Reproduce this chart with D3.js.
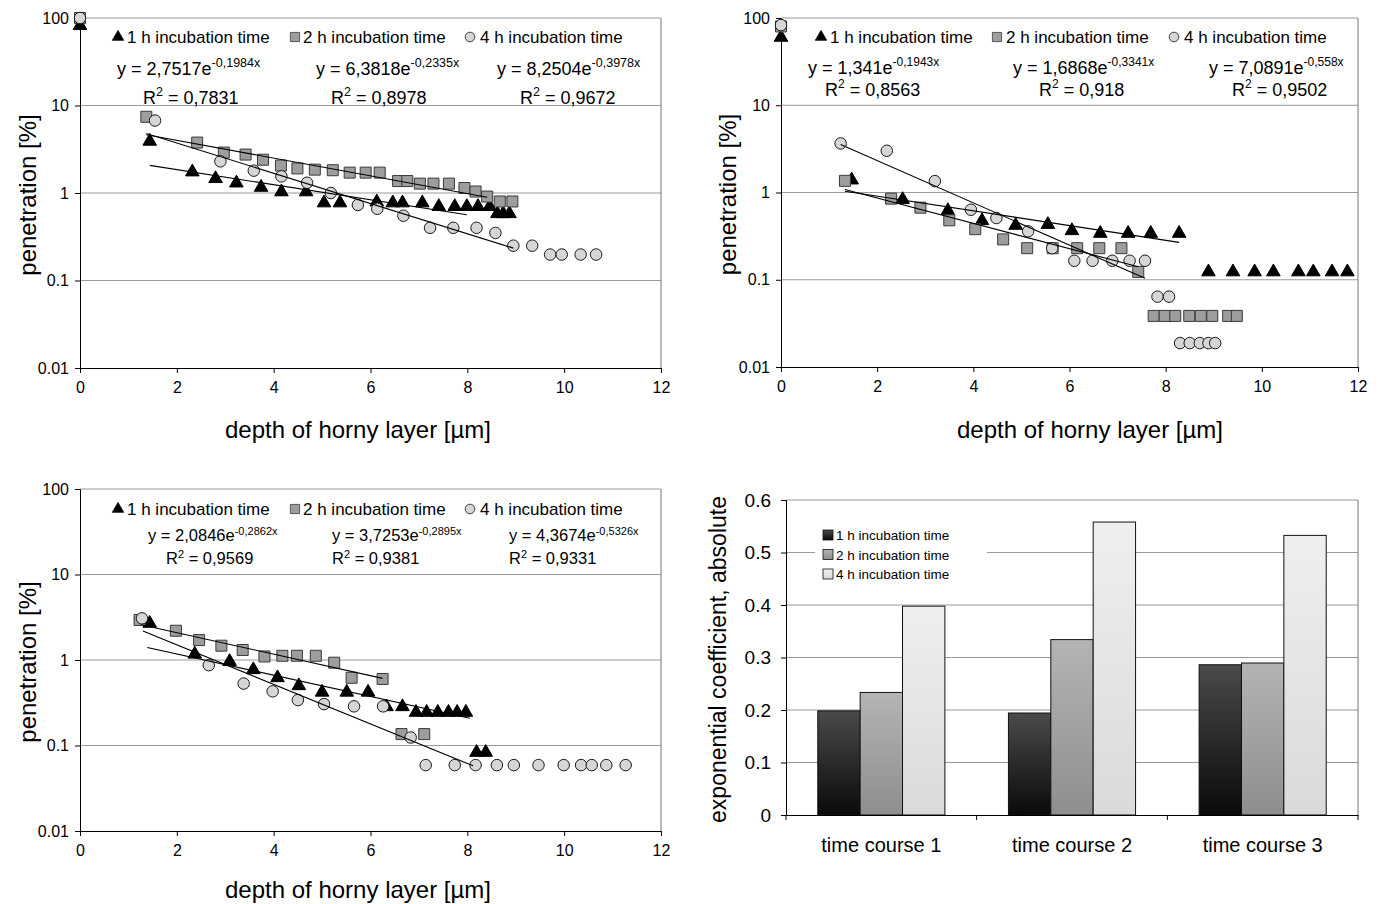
<!DOCTYPE html>
<html>
<head>
<meta charset="utf-8">
<script src="https://cdn.jsdelivr.net/npm/d3@7"></script>
<style>
  body { margin: 0; background: #fff; }
  svg { font-family: "Liberation Sans", Arial, sans-serif; }
</style>
</head>
<body>
<svg id="chart" width="1386" height="904"></svg>
<script>
// ---- data ----
const seriesNames = ["1 h incubation time", "2 h incubation time", "4 h incubation time"];
const yTicks = [0.01, 0.1, 1, 10, 100];
const xTicks = [0, 2, 4, 6, 8, 10, 12];

// time course 1
const tc1H1X = [0, 1.44, 2.32, 2.8, 3.23, 3.74, 4.16, 4.67, 5.04, 5.37, 6.13, 6.46, 6.66, 7.07, 7.41, 7.74, 7.99, 8.22, 8.46, 8.62, 8.74, 8.87];
const tc1H1Y = [82, 3.9, 1.74, 1.46, 1.3, 1.16, 1.03, 1.03, 0.77, 0.77, 0.79, 0.77, 0.77, 0.77, 0.7, 0.7, 0.7, 0.7, 0.7, 0.58, 0.58, 0.58];
const tc1H2X = [0, 1.37, 2.42, 2.97, 3.42, 3.78, 4.15, 4.49, 4.85, 5.22, 5.57, 5.9, 6.19, 6.57, 6.76, 7.02, 7.3, 7.62, 7.94, 8.17, 8.41, 8.67, 8.93];
const tc1H2Y = [100, 7.43, 3.77, 2.9, 2.75, 2.4, 2.06, 1.91, 1.85, 1.82, 1.71, 1.71, 1.71, 1.37, 1.37, 1.28, 1.28, 1.28, 1.14, 1.04, 0.91, 0.8, 0.8];
const tc1H4X = [0, 1.55, 2.9, 3.59, 4.16, 4.69, 5.18, 5.74, 6.14, 6.68, 7.23, 7.71, 8.19, 8.58, 8.95, 9.34, 9.71, 9.95, 10.34, 10.66];
const tc1H4Y = [100, 6.73, 2.3, 1.8, 1.55, 1.31, 1.0, 0.73, 0.66, 0.55, 0.4, 0.4, 0.4, 0.35, 0.25, 0.25, 0.198, 0.198, 0.198, 0.198];
const tc1A = [2.7517, 6.3818, 8.2504];
const tc1B = [-0.1984, -0.2335, -0.3978];
const tc1R2 = [0.7831, 0.8978, 0.9672];
const tc1FitFrom = [1.44, 1.37, 1.37];
const tc1FitTo = [7.99, 8.41, 8.95];

// time course 2
const tc2H1X = [0, 1.47, 2.53, 3.47, 4.18, 4.88, 5.55, 6.05, 6.64, 7.22, 7.69, 8.28, 8.89, 9.4, 9.85, 10.24, 10.76, 11.07, 11.46, 11.78];
const tc2H1Y = [60, 1.39, 0.83, 0.62, 0.475, 0.42, 0.43, 0.365, 0.34, 0.34, 0.34, 0.34, 0.123, 0.123, 0.123, 0.123, 0.123, 0.123, 0.123, 0.123];
const tc2H2X = [0, 1.33, 2.29, 2.9, 3.5, 4.04, 4.62, 5.12, 5.65, 6.16, 6.62, 7.08, 7.43, 7.75, 7.98, 8.2, 8.49, 8.73, 8.97, 9.3, 9.48];
const tc2H2Y = [80, 1.36, 0.85, 0.67, 0.48, 0.38, 0.29, 0.23, 0.23, 0.23, 0.23, 0.23, 0.123, 0.0385, 0.0385, 0.0385, 0.0385, 0.0385, 0.0385, 0.0385, 0.0385];
const tc2H4X = [0, 1.24, 2.2, 3.2, 3.95, 4.48, 5.14, 5.64, 6.1, 6.48, 6.89, 7.25, 7.57, 7.83, 8.07, 8.3, 8.5, 8.71, 8.89, 9.03];
const tc2H4Y = [83, 3.65, 3.01, 1.35, 0.634, 0.51, 0.359, 0.23, 0.165, 0.165, 0.165, 0.165, 0.165, 0.064, 0.064, 0.0188, 0.0188, 0.0188, 0.0188, 0.0188];
const tc2A = [1.341, 1.6868, 7.0891];
const tc2B = [-0.1943, -0.3341, -0.558];
const tc2R2 = [0.8563, 0.918, 0.9502];
const tc2FitFrom = [1.33, 1.33, 1.24];
const tc2FitTo = [8.28, 7.43, 7.57];

// time course 3
const tc3H1X = [1.44, 2.37, 3.09, 3.58, 4.08, 4.52, 5.0, 5.51, 5.95, 6.33, 6.66, 6.94, 7.16, 7.39, 7.61, 7.79, 7.97, 8.19, 8.38];
const tc3H1Y = [2.68, 1.17, 0.96, 0.77, 0.62, 0.5, 0.42, 0.42, 0.42, 0.284, 0.284, 0.244, 0.244, 0.244, 0.244, 0.244, 0.244, 0.083, 0.083];
const tc3H2X = [1.23, 1.98, 2.46, 2.92, 3.36, 3.81, 4.18, 4.48, 4.87, 5.25, 5.61, 6.25, 6.64, 7.11];
const tc3H2Y = [2.94, 2.2, 1.71, 1.47, 1.31, 1.1, 1.12, 1.12, 1.12, 0.93, 0.62, 0.6, 0.136, 0.136];
const tc3H4X = [1.28, 2.66, 3.38, 3.98, 4.5, 5.04, 5.66, 6.26, 6.83, 7.14, 7.74, 8.17, 8.61, 8.96, 9.47, 9.99, 10.35, 10.57, 10.87, 11.27];
const tc3H4Y = [3.07, 0.87, 0.53, 0.43, 0.34, 0.305, 0.287, 0.287, 0.124, 0.059, 0.059, 0.059, 0.059, 0.059, 0.059, 0.059, 0.059, 0.059, 0.059, 0.059];
const tc3A = [2.0846, 3.7253, 4.3674];
const tc3B = [-0.2862, -0.2895, -0.5326];
const tc3R2 = [0.9569, 0.9381, 0.9331];
const tc3FitFrom = [1.39, 1.26, 1.3];
const tc3FitTo = [8.05, 6.25, 8.12];

// bar chart: absolute exponential coefficients
const barCategories = ["time course 1", "time course 2", "time course 3"];
const barH1 = [0.1984, 0.1943, 0.2862];
const barH2 = [0.2335, 0.3341, 0.2895];
const barH4 = [0.3978, 0.558, 0.5326];
const barTicks = [0, 0.1, 0.2, 0.3, 0.4, 0.5, 0.6];

// ---- drawing ----
const svg = d3.select("#chart");
const defs = svg.append("defs");

function grad(id, top, bottom) {
  const g = defs.append("linearGradient").attr("id", id)
    .attr("x1", 0).attr("y1", 0).attr("x2", 0).attr("y2", 1);
  g.append("stop").attr("offset", "0%").attr("stop-color", top);
  g.append("stop").attr("offset", "100%").attr("stop-color", bottom);
}
grad("g1", "#4a4a4a", "#0a0a0a");
grad("g2", "#b4b4b4", "#8e8e8e");
grad("g4", "#efefef", "#dadada");

const gridColor = "#9a9a9a";
const fontFam = "Liberation Sans, Arial, sans-serif";
const fmt = v => String(v).replace(".", ",");

const markers = [
  { type: d3.symbolTriangle, size: 80, fill: "#000", stroke: "#000" },
  { type: d3.symbolSquare, size: 121, fill: "#9d9d9d", stroke: "#3a3a3a" },
  { type: d3.symbolCircle, size: 104, fill: "#d6d6d6", stroke: "#1a1a1a" }
];

function drawScatter(p, xs, ys, A, B, R2, fitFrom, fitTo) {
  const g = svg.append("g");
  const x = d3.scaleLinear().domain([0, 12]).range([p.left, p.right]);
  const y = d3.scaleLog().domain([0.01, 100]).range([p.bottom, p.top]);

  // gridlines + frame
  g.selectAll(".grid").data(yTicks.filter(d => d > 0.01))
    .enter().append("line")
    .attr("x1", p.left).attr("x2", p.right)
    .attr("y1", d => y(d)).attr("y2", d => y(d))
    .attr("stroke", gridColor).attr("stroke-width", 1);
  g.append("line").attr("x1", p.right).attr("x2", p.right)
    .attr("y1", p.top).attr("y2", p.bottom)
    .attr("stroke", "#777");

  const xAxis = d3.axisBottom(x).tickValues(xTicks).tickSize(5).tickFormat(d3.format("d"));
  const ax = g.append("g").attr("transform", "translate(0," + p.bottom + ")").call(xAxis);
  ax.select(".domain").attr("stroke", "#000");
  ax.selectAll("text").attr("font-size", 16).attr("dy", "1.05em").attr("fill", "#000")
    .attr("font-family", fontFam);

  const yAxis = d3.axisLeft(y).tickValues(yTicks).tickSize(5).tickFormat(d => String(d));
  const ay = g.append("g").attr("transform", "translate(" + p.left + ",0)").call(yAxis);
  ay.select(".domain").attr("stroke", "#000");
  ay.selectAll("text").attr("font-size", 16).attr("x", -11).attr("fill", "#000")
    .attr("font-family", fontFam);

  // points
  xs.forEach((sx, i) => {
    const m = markers[i];
    const pts = sx.map((v, k) => [v, ys[i][k]]);
    g.append("g").selectAll("path").data(pts).enter().append("path")
      .attr("d", d3.symbol().type(m.type).size(m.size))
      .attr("transform", d => "translate(" + x(d[0]) + "," + y(d[1]) + ")")
      .attr("fill", m.fill).attr("stroke", m.stroke).attr("stroke-width", 1);
  });

  // trendlines
  const line = d3.line().x(d => x(d[0])).y(d => y(d[1]));
  A.forEach((a, i) => {
    const pts = [fitFrom[i], fitTo[i]].map(v => [v, a * Math.exp(B[i] * v)]);
    g.append("path").attr("d", line(pts))
      .attr("fill", "none").attr("stroke", "#000").attr("stroke-width", 1.1);
  });

  // legend
  seriesNames.forEach((name, i) => {
    const m = markers[i];
    g.append("path")
      .attr("d", d3.symbol().type(m.type).size(m.size * 0.7))
      .attr("transform", "translate(" + p.legMark[i] + "," + (p.legY - 6) + ")")
      .attr("fill", m.fill).attr("stroke", m.stroke).attr("stroke-width", 0.8);
    g.append("text").attr("x", p.legText[i]).attr("y", p.legY)
      .attr("font-size", 17).text(name);
  });

  // equations
  A.forEach((a, i) => {
    const t = g.append("text").attr("x", p.eqX[i]).attr("y", p.eqY).attr("font-size", p.eqFont);
    t.append("tspan").text("y = " + fmt(a) + "e");
    t.append("tspan").attr("font-size", p.supFont).attr("dy", -p.supRise).text(fmt(B[i]) + "x");
    const r = g.append("text").attr("x", p.r2X[i]).attr("y", p.r2Y).attr("font-size", p.eqFont);
    r.append("tspan").text("R");
    r.append("tspan").attr("font-size", p.supFont).attr("dy", -p.supRise).text("2");
    r.append("tspan").attr("dy", p.supRise).text(" = " + fmt(R2[i]));
  });

  // axis titles
  g.append("text").attr("x", p.xTitleX).attr("y", p.xTitleY)
    .attr("text-anchor", "middle").attr("font-size", 24).text("depth of horny layer [µm]");
  g.append("text")
    .attr("transform", "translate(" + p.yTitleX + "," + ((p.top + p.bottom) / 2 + 2) + ") rotate(-90)")
    .attr("text-anchor", "middle").attr("font-size", 24).text("penetration [%]");
}

drawScatter(
  { left: 80, right: 661, top: 18, bottom: 368, legY: 43,
    legMark: [118, 295, 470], legText: [127, 303, 480],
    eqX: [117, 316, 497], eqY: 75, r2X: [143, 331, 520], r2Y: 104,
    eqFont: 18, supFont: 12.5, supRise: 8,
    xTitleX: 358, xTitleY: 438, yTitleX: 36 },
  [tc1H1X, tc1H2X, tc1H4X], [tc1H1Y, tc1H2Y, tc1H4Y],
  tc1A, tc1B, tc1R2, tc1FitFrom, tc1FitTo);

drawScatter(
  { left: 781, right: 1358, top: 18, bottom: 367, legY: 43,
    legMark: [821, 997, 1174], legText: [830, 1006, 1184],
    eqX: [808, 1013, 1209], eqY: 74, r2X: [825, 1039, 1232], r2Y: 96,
    eqFont: 18, supFont: 12, supRise: 8,
    xTitleX: 1090, xTitleY: 438, yTitleX: 736 },
  [tc2H1X, tc2H2X, tc2H4X], [tc2H1Y, tc2H2Y, tc2H4Y],
  tc2A, tc2B, tc2R2, tc2FitFrom, tc2FitTo);

drawScatter(
  { left: 80, right: 661, top: 489, bottom: 831, legY: 515,
    legMark: [118, 295, 470], legText: [127, 303, 480],
    eqX: [148, 332, 509], eqY: 541, r2X: [166, 332, 509], r2Y: 564,
    eqFont: 16.5, supFont: 11, supRise: 6,
    xTitleX: 358, xTitleY: 898, yTitleX: 36 },
  [tc3H1X, tc3H2X, tc3H4X], [tc3H1Y, tc3H2Y, tc3H4Y],
  tc3A, tc3B, tc3R2, tc3FitFrom, tc3FitTo);

// ---- bar chart ----
(function () {
  const L = 786, R = 1358, T = 500, Bm = 815;
  const g = svg.append("g");
  const x0 = d3.scaleBand().domain(barCategories).range([L, R]).padding(0);
  const x1 = d3.scaleBand().domain([0, 1, 2]).range([0, x0.bandwidth()])
    .paddingInner(0).paddingOuter(0.75);
  const y = d3.scaleLinear().domain([0, 0.6]).range([Bm, T]);

  g.selectAll(".grid").data(barTicks.filter(d => d > 0)).enter().append("line")
    .attr("x1", L).attr("x2", R).attr("y1", d => y(d)).attr("y2", d => y(d))
    .attr("stroke", gridColor);
  g.append("line").attr("x1", R).attr("x2", R).attr("y1", T).attr("y2", Bm).attr("stroke", "#777");

  const vals = [barH1, barH2, barH4];
  const fills = ["url(#g1)", "url(#g2)", "url(#g4)"];
  barCategories.forEach((c, ci) => {
    vals.forEach((v, si) => {
      g.append("rect")
        .attr("x", x0(c) + x1(si)).attr("width", x1.bandwidth())
        .attr("y", y(v[ci])).attr("height", Bm - y(v[ci]))
        .attr("fill", fills[si]).attr("stroke", "#111").attr("stroke-width", 1);
    });
  });

  const yAxis = d3.axisLeft(y).tickValues(barTicks).tickSize(5).tickFormat(d => String(d));
  const ay = g.append("g").attr("transform", "translate(" + L + ",0)").call(yAxis);
  ay.select(".domain").attr("stroke", "#000");
  ay.selectAll("text").attr("font-size", 19).attr("x", -15).attr("fill", "#000")
    .attr("font-family", fontFam);

  const xAxis = d3.axisBottom(x0).tickSize(0).tickPadding(19);
  const ax = g.append("g").attr("transform", "translate(0," + Bm + ")").call(xAxis);
  ax.select(".domain").attr("stroke", "#000");
  ax.selectAll("text").attr("font-size", 20).attr("dy", "0.9em").attr("fill", "#000")
    .attr("font-family", fontFam);
  // category separator ticks
  ax.selectAll(".sep").data(d3.range(barCategories.length + 1)).enter().append("line")
    .attr("x1", d => L + d * x0.step()).attr("x2", d => L + d * x0.step())
    .attr("y1", 0).attr("y2", 5).attr("stroke", "#000");

  // legend
  const lg = g.append("g");
  lg.append("rect").attr("x", 815).attr("y", 525).attr("width", 172).attr("height", 60).attr("fill", "#fff");
  seriesNames.forEach((name, i) => {
    const yy = 535 + i * 19.5;
    lg.append("rect").attr("x", 823).attr("y", yy - 5).attr("width", 10).attr("height", 10)
      .attr("fill", fills[i]).attr("stroke", "#111").attr("stroke-width", 0.8);
    lg.append("text").attr("x", 836).attr("y", yy + 5).attr("font-size", 13.5).text(name);
  });

  g.append("text")
    .attr("transform", "translate(726," + ((T + Bm) / 2 + 2) + ") rotate(-90)")
    .attr("text-anchor", "middle").attr("font-size", 23).text("exponential coefficient, absolute");
})();
</script>
</body>
</html>
